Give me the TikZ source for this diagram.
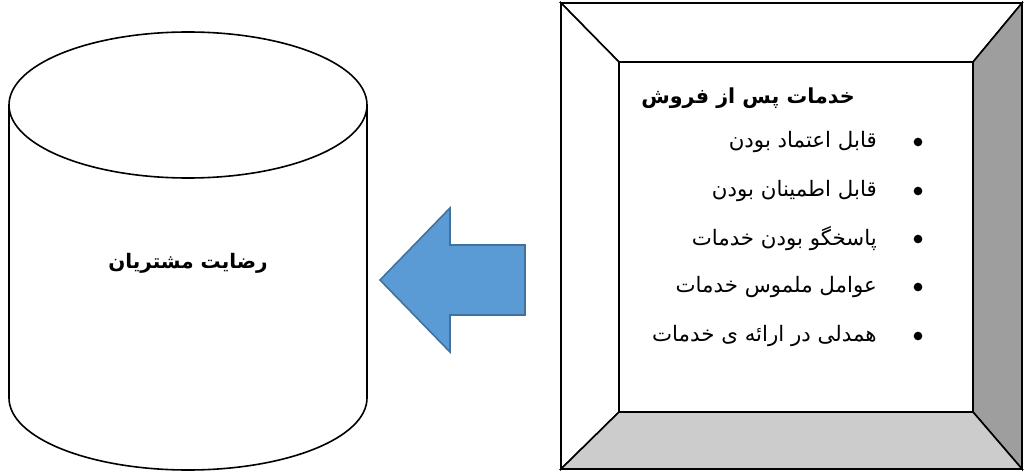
\documentclass[tikz,border=0pt]{standalone}
\usepackage{fontspec}
\newfontfamily\arabicfont[Script=Arabic]{DejaVu Sans}
\TeXXeTstate=1

\begin{document}
\begin{tikzpicture}[x=0.75pt,y=0.75pt,
  line/.style={draw=black,line width=1.2pt},
  face/.style={draw=black,line width=1.2pt,line join=miter},
  blk/.style={fill=arrowblue,draw=arrowedge,line width=1.2pt},
  head/.style={font=\arabicfont\bfseries\fontsize{15.5}{18}\selectfont,inner sep=0pt},
  item/.style={font=\arabicfont\fontsize{16}{19}\selectfont,inner sep=0pt,anchor=east},
  dot/.style={circle,fill=black,inner sep=0pt,minimum size=6.5pt}]
\definecolor{arrowblue}{RGB}{91,155,213}
\definecolor{arrowedge}{RGB}{65,113,156}
\useasboundingbox (0,0) rectangle (1024,472);

% cylinder
\draw[line] (188,367) ellipse [x radius=179,y radius=73];
\draw[line] (9,367) -- (9,74) arc[start angle=180,end angle=360,x radius=179,y radius=72] -- (367,367);
\node[head,font=\arabicfont\bfseries\fontsize{15}{18}\selectfont] (cyl) at (188,209) {\beginR رضایت مشتریان\endR};

% block arrow
\draw[blk] (380,192) -- (450,264) -- (450,227) -- (525,227) -- (525,157) -- (450,157) -- (450,120) -- cycle;

% bevel box
\draw[face,fill=white] (561,469) -- (1022,469) -- (973,410) -- (619,410) -- cycle;
\draw[face,fill=white] (561,469) -- (619,410) -- (619,60) -- (561,3) -- cycle;
\draw[face,fill=black!38] (1022,469) -- (1022,3) -- (973,60) -- (973,410) -- cycle;
\draw[face,fill=black!20] (561,3) -- (1022,3) -- (973,60) -- (619,60) -- cycle;
\draw[line] (619,60) rectangle (973,410);

% list
\node[head,anchor=east] (hdr) at (855,374) {\beginR خدمات پس از فروش\endR};
\node[item] (it1) at (877,330) {\beginR قابل اعتماد بودن\endR};
\node[item] (it2) at (877,281) {\beginR قابل اطمینان بودن\endR};
\node[item] (it3) at (877,233) {\beginR پاسخگو بودن خدمات\endR};
\node[item] (it4) at (877,185) {\beginR عوامل ملموس خدمات\endR};
\node[item] (it5) at (877,136) {\beginR همدلی در ارائه ی خدمات\endR};
\node[dot] (b1) at (918,330) {};
\node[dot] (b2) at (918,281) {};
\node[dot] (b3) at (918,233) {};
\node[dot] (b4) at (918,185) {};
\node[dot] (b5) at (918,136) {};
\end{tikzpicture}
\end{document}
